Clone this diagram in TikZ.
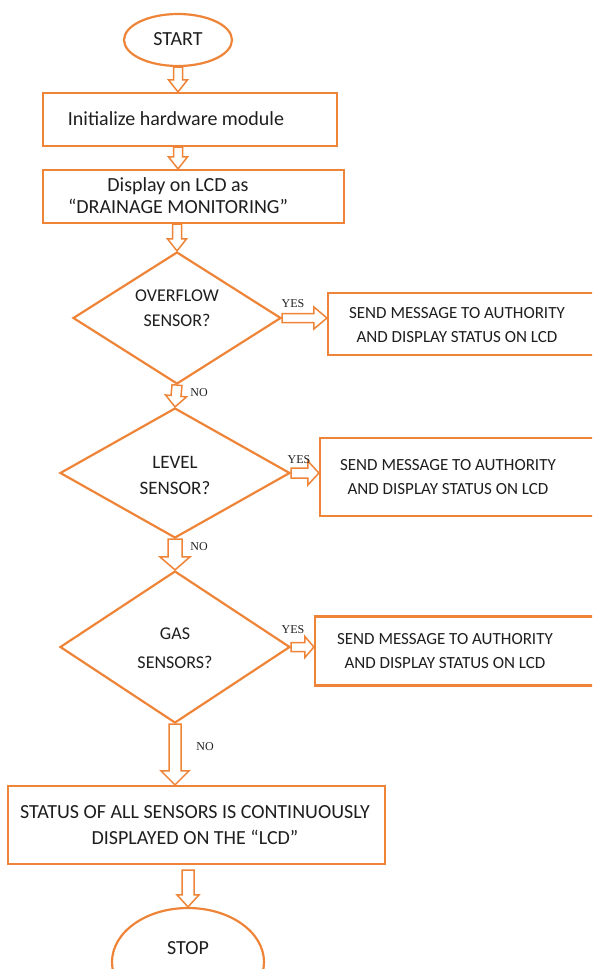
\documentclass[tikz,border=0pt]{standalone}
\usepackage{fontspec}
\setmainfont{Carlito}
\newfontfamily\labelfont{Liberation Serif}
\usetikzlibrary{shapes.geometric,calc}
\definecolor{flow}{RGB}{238,132,56}
\definecolor{ink}{RGB}{30,30,30}

% hollow block arrow from \tikztostart to \tikztotarget
\pgfkeys{/tikz/.cd,
  shaftw/.store in=\arrsw, shaftw=4.5pt,
  headw/.store in=\arrhw, headw=9.5pt,
  headl/.store in=\arrhl, headl=12pt}
\tikzset{
  hollow/.style={draw=flow, line width=1.5pt, fill=white, line join=miter,
    to path={
      let \p1=(\tikztostart), \p2=(\tikztotarget),
          \n1={atan2(\y2-\y1,\x2-\x1)}, \n2={veclen(\x2-\x1,\y2-\y1)} in
      ([shift={(\p1)},rotate=\n1]0pt,-\arrsw)
      -- ([shift={(\p1)},rotate=\n1]\n2-\arrhl,-\arrsw)
      -- ([shift={(\p1)},rotate=\n1]\n2-\arrhl,-\arrhw)
      -- ([shift={(\p1)},rotate=\n1]\n2,0pt)
      -- ([shift={(\p1)},rotate=\n1]\n2-\arrhl,\arrhw)
      -- ([shift={(\p1)},rotate=\n1]\n2-\arrhl,\arrsw)
      -- ([shift={(\p1)},rotate=\n1]0pt,\arrsw) -- cycle}},
  frame/.style={draw=flow, line width=2.2pt, rectangle, inner sep=0pt},
  term/.style={draw=flow, line width=2.2pt, ellipse, inner sep=0pt},
  decision/.style={draw=flow, line width=2.2pt, diamond, inner sep=0pt},
  bigtext/.style={align=center, inner sep=0pt, text=ink, font=\fontsize{20}{22}\selectfont},
  sidetext/.style={align=center, inner sep=0pt, text=ink, font=\fontsize{17}{24}\selectfont},
  asktext/.style={align=center, inner sep=0pt, text=ink, font=\fontsize{18}{25}\selectfont},
  answer/.style={font=\labelfont\fontsize{12}{14}\selectfont, text=ink, inner sep=0pt}
}

\begin{document}
\begin{tikzpicture}[x=1pt, y=-1pt]
\useasboundingbox (0,0) rectangle (592,969);
\clip (0,0) rectangle (592,969);

% main column shapes
\node[term, minimum width=108pt, minimum height=52pt] (start) at (178,40) {};
\node[frame, minimum width=294pt, minimum height=53pt] (init) at (190,119.5) {};
\node[frame, minimum width=301pt, minimum height=53pt] (lcd) at (193.5,196.5) {};
\node[decision, minimum width=208pt, minimum height=132pt] (overflow) at (177,318) {};
\node[decision, minimum width=230pt, minimum height=130pt] (level) at (175,473) {};
\node[decision, minimum width=230pt, minimum height=152pt] (gas) at (175,647) {};
\node[frame, minimum width=377pt, minimum height=78pt] (status) at (196.5,825) {};
\node[term, minimum width=152pt, minimum height=108pt] (stop) at (188,962) {};

% alert boxes on the right (running off the right edge)
\node[frame, minimum width=272pt, minimum height=62pt] (alert1) at (464,324) {};
\node[frame, minimum width=282pt, minimum height=78pt] (alert2) at (461,477) {};
\node[frame, minimum width=287pt, minimum height=69pt] (alert3) at (458.5,651) {};

% texts
\node[bigtext] (start-t) at (178,39) {START};
\node[bigtext] (init-t) at (176,119) {Initialize hardware module};
\node[bigtext] (lcd-t) at (178,196)
  {Display on LCD as\\``DRAINAGE MONITORING''};
\node[asktext] (overflow-t) at (177,308) {OVERFLOW\\SENSOR?};
\node[asktext, font=\fontsize{19}{26}\selectfont] (level-t) at (175,475) {LEVEL\\SENSOR?};
\node[asktext, font=\fontsize{18}{29}\selectfont] (gas-t) at (175,648) {GAS\\SENSORS?};
\node[bigtext, font=\fontsize{20}{26}\selectfont] (status-t) at (195,825)
  {STATUS OF ALL SENSORS IS CONTINUOUSLY\\DISPLAYED ON THE ``LCD''};
\node[bigtext] (stop-t) at (188,948) {STOP};
\node[sidetext] (alert1-t) at (457,325) {SEND MESSAGE TO AUTHORITY\\AND DISPLAY STATUS ON LCD};
\node[sidetext] (alert2-t) at (448,477) {SEND MESSAGE TO AUTHORITY\\AND DISPLAY STATUS ON LCD};
\node[sidetext] (alert3-t) at (445,651) {SEND MESSAGE TO AUTHORITY\\AND DISPLAY STATUS ON LCD};

% flow arrows
\draw[hollow] (start.south) to (start.south |- init.north);
\draw[hollow] (start.south |- init.south) to (start.south |- lcd.north);
\draw[hollow] (overflow.north |- lcd.south) to (overflow.north);
\draw[hollow, shaftw=5pt, headw=10.5pt, headl=11pt] (overflow.south) to (level.north);
\draw[hollow, shaftw=7pt, headw=15pt, headl=13pt] (level.south) to (gas.north);
\draw[hollow, shaftw=6pt, headw=14pt, headl=14pt] (gas.south) to (gas.south |- status.north);
\draw[hollow, shaftw=6pt, headw=11pt, headl=12pt] ([yshift=-5pt]stop.north |- status.south) to (stop.north);

\draw[hollow, shaftw=4.5pt, headw=11pt, headl=13pt] (overflow.east) to (alert1.west |- overflow.east);
\draw[hollow, shaftw=5pt, headw=12pt, headl=11pt] (level.east) to (alert2.west |- level.east);
\draw[hollow, shaftw=4.5pt, headw=10.5pt, headl=9pt] (gas.east) to (alert3.west |- gas.east);

% branch labels
\node[answer] (yes1) at (293,304) {YES};
\node[answer] (yes2) at (299,460) {YES};
\node[answer] (yes3) at (293,630) {YES};
\node[answer] (no1) at (199,393) {NO};
\node[answer] (no2) at (199,547) {NO};
\node[answer] (no3) at (205,747) {NO};
\end{tikzpicture}
\end{document}
